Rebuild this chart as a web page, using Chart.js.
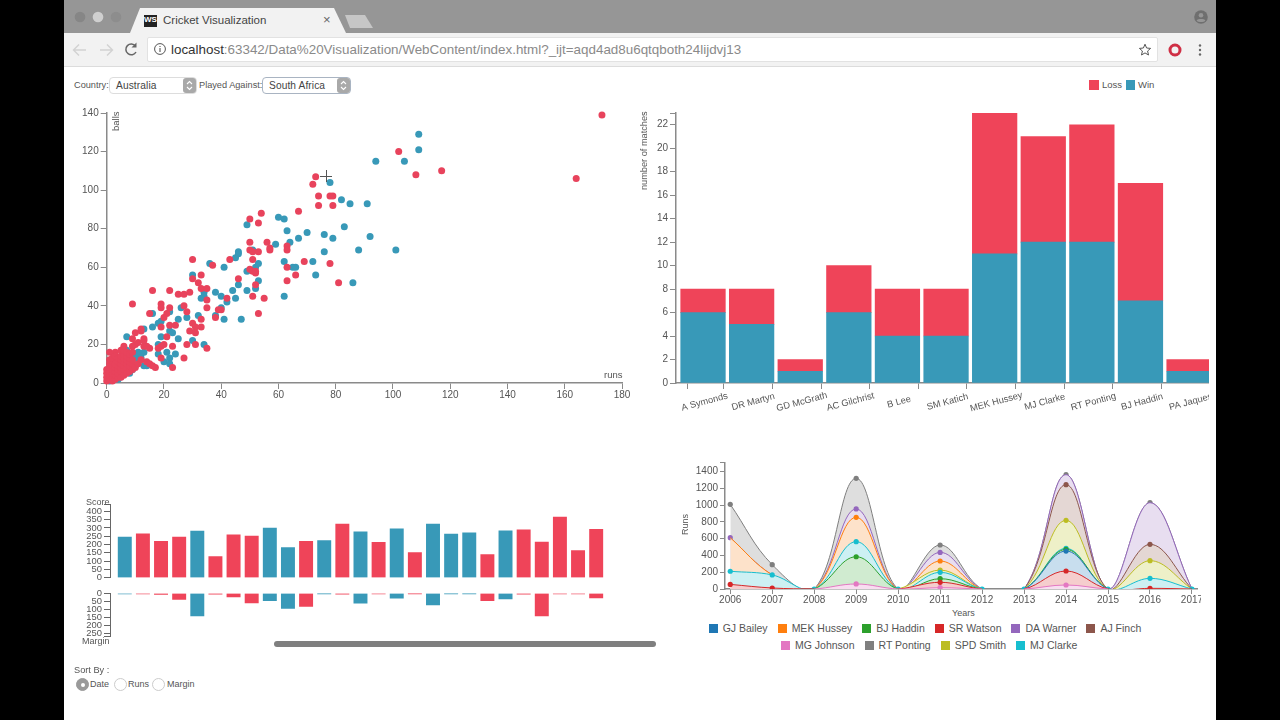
<!DOCTYPE html>
<html>
<head>
<meta charset="utf-8">
<title>Cricket Visualization</title>
<script src="https://cdn.jsdelivr.net/npm/chart.js@4/dist/chart.umd.js"></script>
<style>
  html, body { margin: 0; padding: 0; width: 1280px; height: 720px; overflow: hidden; background: #000; }
  body, select, div, span { font-family: "Liberation Sans", Arial, sans-serif; }
  #window { position: absolute; left: 64px; top: 0; width: 1152px; height: 720px; background: #fff; overflow: hidden; }
  .abs { position: absolute; }
  canvas { position: absolute; }
  #tabstrip { left: 0; top: 0; width: 1152px; height: 33px; background: #969696; }
  #tab { left: 66px; top: 8px; width: 216px; height: 25px; background: #f2f2f2;
         clip-path: polygon(0 100%, 10px 0, 204px 0, 100% 100%); }
  #newtab { left: 281px; top: 15px; width: 28px; height: 13px; background: #c6c6c6;
            clip-path: polygon(0 0, 20px 0, 100% 100%, 5px 100%); }
  #toolbar { left: 0; top: 33px; width: 1152px; height: 33px; background: #f2f2f2; border-bottom: 1px solid #dcdcdc; }
  #urlbox { left: 83px; top: 37px; width: 1009px; height: 23px; background: #fff; border: 1px solid #e2e2e2; border-radius: 2px; }
  #url { left: 107px; top: 42px; font-size: 13.4px; line-height: 16px; color: #8a8a8a; white-space: nowrap; }
  #url b { font-weight: normal; color: #333; }
  .lbl { position: absolute; font-size: 10px; line-height: 12px; color: #555; white-space: nowrap; }
  .sel { position: absolute; top: 77px; height: 15px; background: #fff; border: 1px solid #ddd; border-radius: 4px;
         font-size: 10.2px; line-height: 15px; color: #444; letter-spacing: 0.1px; box-sizing: content-box; }
  .sel span { position: absolute; left: 6px; top: 0; white-space: nowrap; }
  .sel svg { position: absolute; right: 0; top: 0; }
  .radio { position: absolute; top: 678px; width: 11px; height: 11px; border: 1px solid #ccc; border-radius: 50%; background: #fff; }
  .radio.on { background: #9a9a9a; border-color: #9a9a9a; }
  .radio.on::after { content: ""; position: absolute; left: 4px; top: 4px; width: 4px; height: 4px; border-radius: 50%; background: #fff; }
  #scrollthumb { left: 210px; top: 641px; width: 382px; height: 6px; background: #7f7f7f; border-radius: 3px; }
  .swatch { display: inline-block; width: 9px; height: 9px; margin-right: 5px; }
  .legendrow { position: absolute; display: flex; align-items: center; font-size: 10.5px; line-height: 12px; color: #555; white-space: nowrap; }
  .legendrow span.item { display: flex; align-items: center; margin-right: 10px; }
</style>
</head>
<body>
<div id="window">
  <div class="abs" id="tabstrip"></div>
  <svg class="abs" style="left:0;top:0" width="70" height="33">
    <circle cx="16" cy="17" r="5.3" fill="#868686"/>
    <circle cx="34" cy="17" r="5.3" fill="#cfcfcf"/>
    <circle cx="52" cy="17" r="5.3" fill="#8d8d8d"/>
  </svg>
  <div class="abs" id="tab"></div>
  <div class="abs" id="newtab"></div>
  <div class="abs" style="left:80px;top:15px;width:13px;height:12px;background:#222;color:#fff;font-size:8px;line-height:9px;font-weight:bold;text-align:center">WS</div>
  <div class="abs" style="left:99px;top:13px;font-size:11.5px;line-height:14px;color:#444;white-space:nowrap">Cricket Visualization</div>
  <div class="abs" style="left:259px;top:13px;font-size:13px;line-height:14px;color:#666">×</div>
  <div class="abs" id="toolbar"></div>
  <div class="abs" id="urlbox"></div>
  <svg class="abs" style="left:0;top:33px" width="100" height="33">
    <path d="M22 17 H10 M15 11.5 L9.5 17 L15 22.5" fill="none" stroke="#d2d2d2" stroke-width="1.4"/>
    <path d="M36 17 H48 M43 11.5 L48.5 17 L43 22.5" fill="none" stroke="#d2d2d2" stroke-width="1.4"/>
    <path d="M71.5 13 A5.4 5.4 0 1 0 72 19" fill="none" stroke="#666" stroke-width="1.5"/>
    <path d="M72.5 9.5 V14.5 H67.5 Z" fill="#666"/>
  </svg>
  <svg class="abs" style="left:88px;top:41px" width="16" height="16">
    <circle cx="8" cy="8" r="5.4" fill="none" stroke="#555" stroke-width="1"/>
    <path d="M8 7 V11 M8 5 V6" stroke="#555" stroke-width="1.1"/>
  </svg>
  <div class="abs" id="url"><b>localhost</b>:63342/Data%20Visualization/WebContent/index.html?_ijt=aqd4ad8u6qtqboth24lijdvj13</div>
  <svg class="abs" style="left:1072px;top:41px" width="80" height="18">
    <path d="M9 3.2 L10.6 7 L14.6 7.4 L11.6 10 L12.5 14 L9 11.9 L5.5 14 L6.4 10 L3.4 7.4 L7.4 7 Z" fill="none" stroke="#555" stroke-width="1"/>
    <circle cx="39" cy="9" r="5" fill="none" stroke="#cf2f45" stroke-width="3"/>
    <circle cx="64" cy="4.5" r="1.2" fill="#666"/><circle cx="64" cy="9" r="1.2" fill="#666"/><circle cx="64" cy="13.5" r="1.2" fill="#666"/>
  </svg>
  <svg class="abs" style="left:1128px;top:9px" width="18" height="18">
    <circle cx="9" cy="8" r="6.8" fill="#6f6f6f"/>
    <circle cx="9" cy="6.2" r="2.3" fill="#969696"/>
    <path d="M4.6 11.4 C6 9.6 12 9.6 13.4 11.4 C12 13.4 6 13.4 4.6 11.4 Z" fill="#969696"/>
  </svg>

  <div class="lbl" style="left:10px;top:79px;font-size:9.2px">Country:</div>
  <div class="sel" style="left:45px;width:86px"><span>Australia</span>
    <svg width="13" height="15"><rect width="13" height="15" rx="3" fill="#a9a9a9"/><path d="M4 6 L6.5 3.5 L9 6 M4 9 L6.5 11.5 L9 9" fill="none" stroke="#fff" stroke-width="1.1"/></svg></div>
  <div class="lbl" style="left:135px;top:79px;font-size:9.2px">Played Against:</div>
  <div class="sel" style="left:198px;width:87px;border-color:#a9b4c2"><span>South Africa</span>
    <svg width="13" height="15"><rect width="13" height="15" rx="3" fill="#a9a9a9"/><path d="M4 6 L6.5 3.5 L9 6 M4 9 L6.5 11.5 L9 9" fill="none" stroke="#fff" stroke-width="1.1"/></svg></div>

  <span class="abs" style="left:1025px;top:80px;width:9.5px;height:9.5px;background:#ef4459"></span>
  <div class="lbl" style="left:1038px;top:79px;font-size:9.5px">Loss</div>
  <span class="abs" style="left:1061.5px;top:80px;width:9px;height:9.5px;background:#3899b8"></span>
  <div class="lbl" style="left:1074px;top:79px;font-size:9.5px">Win</div>

  <canvas id="scatterCanvas" style="left:6px;top:100px" width="560" height="310"></canvas>
  <div class="lbl" style="left:52px;top:113px;transform-origin:0 0;transform:rotate(-90deg) translate(-18px,-6px);font-size:9.5px;width:18px">balls</div>
  <div class="lbl" style="left:540px;top:369px;font-size:9.5px">runs</div>

  <canvas id="stackCanvas" style="left:570px;top:100px" width="575" height="320"></canvas>
  <div class="lbl" style="left:574px;top:190px;transform-origin:0 0;transform:rotate(-90deg);font-size:9.2px;width:78px">number of matches</div>

  <canvas id="scoreCanvas" style="left:6px;top:495px" width="590" height="85"></canvas>
  <canvas id="marginCanvas" style="left:6px;top:585px" width="590" height="55"></canvas>
  <div class="lbl" style="left:15px;top:496px;font-size:9px;width:30.5px;text-align:right">Score</div>
  <div class="lbl" style="left:15px;top:635px;font-size:9px;width:30.5px;text-align:right">Margin</div>
  <div class="abs" id="scrollthumb"></div>

  <div class="lbl" style="left:10px;top:664px;font-size:9.2px">Sort By :</div>
  <div class="radio on" style="left:12px"></div>
  <div class="lbl" style="left:26px;top:678px;font-size:9px">Date</div>
  <div class="radio" style="left:50px"></div>
  <div class="lbl" style="left:64px;top:678px;font-size:9px">Runs</div>
  <div class="radio" style="left:88px"></div>
  <div class="lbl" style="left:103px;top:678px;font-size:9px">Margin</div>

  <canvas id="areaCanvas" style="left:626px;top:455px" width="511" height="150"></canvas>
  <div class="lbl" style="left:615px;top:535px;transform-origin:0 0;transform:rotate(-90deg);font-size:9px;width:22px">Runs</div>
  <div class="lbl" style="left:888px;top:607px;font-size:9px">Years</div>
  <div class="legendrow" id="legendRow1" style="left:644.7px;top:622px"></div>
  <div class="legendrow" id="legendRow2" style="left:717px;top:639px"></div>

  <!-- mouse crosshair over the scatter -->
  <div class="abs" style="left:256px;top:175.5px;width:12px;height:1px;background:#555"></div>
  <div class="abs" style="left:261.5px;top:170px;width:1px;height:12px;background:#555"></div>
</div>

<script>
const RED = "#ef4459";
const SCATTER_RED = "#e8435c";
const BLUE = "#3899b8";
const AXIS = "#8a8a8a";
const TEXT = "#555";

// scatter, runs against balls
const lossRuns = [173,164,102,117,108,81,73,72,74,74,78,79,79,67,54,50,53,50,50,56,57,63,63,
  30,37,43,51,53,57,69,78,63,63,66,33,30,32,33,35,50,51,52,51,52,46,52,51,55,53,42,40,39,38,35,35,
  16,22,25,27,29,9,19,19,22,21,15,27,28,20,19,22,24,30,33,31,33,29,31,21,28,31,23,35,27,23,17,19,19,20,18,
  9,10,12,13,9,6,13,15,14,1,3,12,
  0,0,0,0,1,1,1,1,1,1,2,2,2,2,2,2,2,3,3,3,3,3,3,4,4,4,4,4,4,5,5,5,5,5,5,5,6,6,6,6,6,6,6,7,7,7,7,7,7,8,8,8,8,8,9,9,9,9,10,10,11,11,12,13,14,15,16];
const lossBalls = [139,106,120,110,108,52,107,103,97,92,97,97,92,89,88,85,83,73,69,73,70,71,69,
  64,61,64,68,68,69,63,62,60,53,56,56,54,52,49,49,59,58,57,64,58,54,51,45,44,36,44,38,38,34,39,43,
  48,48,46,46,47,41,41,39,39,36,36,40,37,34,29,30,30,31,33,29,29,27,26,24,20,20,19,18,13,8,8,13,19,20,18,
  23,26,27,23,19,19,19,18,19,16,16,28,
  1,3,5,7,2,4,6,8,10,12,1,3,5,7,9,11,13,2,4,6,8,10,14,3,5,7,9,11,13,3,6,8,10,12,14,17,4,7,9,11,13,15,17,5,8,10,12,14,16,6,9,11,13,15,7,10,12,16,8,20,10,21,12,22,11,10,9];

const winRuns = [109,109,94,104,78,82,85,91,60,62,49,63,70,67,76,79,83,92,64,59,88,101,76,46,51,86,
  36,41,45,46,52,53,49,62,65,66,72,73,30,53,46,44,49,52,45,62,40,38,34,34,33,42,40,38,41,47,26,22,16,28,32,25,19,18,16,13,7,22,23,19,25,30,34,18,21,24,22,20,22,18,
  12,10,13,13,14,10,7,8,3,1,2,4,5,6,9,11,11,12,8,5];
const winBalls = [129,121,115,115,104,95,93,93,86,85,82,79,78,75,77,75,81,76,73,72,69,69,68,68,69,52,
  62,60,65,67,60,62,58,63,60,60,63,56,56,53,51,48,48,49,44,45,45,47,47,45,44,42,39,35,33,33,39,37,36,34,35,33,32,31,29,28,24,27,26,24,23,22,20,20,16,15,13,11,10,15,
  15,14,16,9,9,9,17,5,10,1,2,2,4,5,7,12,16,13,10,9];

// stacked bars, matches per player
const players = ["A Symonds","DR Martyn","GD McGrath","AC Gilchrist","B Lee","SM Katich","MEK Hussey","MJ Clarke","RT Ponting","BJ Haddin","PA Jaques"];
const wins = [6,5,1,6,4,4,11,12,12,7,1];
const losses = [2,3,1,4,4,4,12,9,10,10,1];

// one bar per match, in date order
const scores = [245,265,219,245,281,128,259,251,299,181,219,223,323,277,213,295,151,323,263,271,139,283,289,215,365,163,291];
const margins = [3,3,7,38,141,6,23,60,46,94,81,2,6,62,4,31,2,73,2,2,46,35,5,141,3,4,29];
const outcomes = ["W","L","L","L","W","L","L","L","W","W","L","W","L","W","L","W","L","W","W","W","L","W","L","L","L","L","L"];
// the last tick of each list is the unlabelled end of the axis
const scoreTicks = [0,50,100,150,200,250,300,350,400,440];
const marginTicks = [0,50,100,150,200,250,270];

// runs per player per year
const years = [2006,2007,2008,2009,2010,2011,2012,2013,2014,2015,2016,2017];
const runTicks = [0,200,400,600,800,1000,1200,1400,1507];
const baileyRuns  = [0,0,0,0,0,0,0,0,453,0,0,0];
const husseyRuns  = [612,168,0,855,0,334,0,0,0,0,0,0];
const haddinRuns  = [0,0,0,385,0,123,0,0,473,0,0,0];
const watsonRuns  = [55,12,0,0,0,80,0,0,215,0,8,0];
const warnerRuns  = [612,168,0,955,0,437,0,0,1364,0,1030,0];
const finchRuns   = [0,0,0,0,0,0,0,0,1245,0,533,0];
const johnsonRuns = [0,0,0,60,0,16,0,0,48,0,0,0];
const pontingRuns = [1010,290,0,1320,0,525,0,0,1364,0,1030,0];
const smithRuns   = [0,0,0,0,0,226,0,0,819,0,338,0];
const clarkeRuns  = [212,168,0,565,0,199,0,0,485,0,127,0];

const batsmen = ["GJ Bailey","MEK Hussey","BJ Haddin","SR Watson","DA Warner","AJ Finch","MG Johnson","RT Ponting","SPD Smith","MJ Clarke"];
const batsmanRuns = [baileyRuns,husseyRuns,haddinRuns,watsonRuns,warnerRuns,finchRuns,johnsonRuns,pontingRuns,smithRuns,clarkeRuns];
const batsmanColors = ["#1f77b4","#ff7f0e","#2ca02c","#d62728","#9467bd","#8c564b","#e377c2","#7f7f7f","#bcbd22","#17becf"];
const batsmanFills = ["#c8deee","#fde2ca","#d0ebd0","#f5cdcd","#e8def0","#e4d7d4","#f8def0","#dedede","#eef0c8","#cdf0f3"];
// tallest curves get painted first so the shorter ones stay visible
const paintOrder = ["RT Ponting","DA Warner","AJ Finch","MEK Hussey","SPD Smith","MJ Clarke","BJ Haddin","GJ Bailey","SR Watson","MG Johnson"];

Chart.defaults.animation = false;
Chart.defaults.responsive = false;
Chart.defaults.devicePixelRatio = 1;
Chart.defaults.font.family = '"Liberation Sans", Arial, sans-serif';
Chart.defaults.font.size = 10;
Chart.defaults.color = TEXT;
Chart.defaults.plugins.legend.display = false;
Chart.defaults.plugins.tooltip.enabled = false;

// d3 style axis: line plus outward ticks, nothing on the plot itself
function axisLook(extra) {
  return Object.assign({
    grid: { drawOnChartArea: false, tickLength: 6, tickColor: AXIS, tickWidth: 1 },
    border: { color: AXIS, width: 1.5 },
  }, extra);
}

// fix the axis box so the plot area lands where it should
function pinY(width) {
  return (s) => { s.width = width; s.paddingTop = 0; s.paddingBottom = 0; };
}
function pinX(height) {
  return (s) => { s.height = height; s.paddingLeft = 0; s.paddingRight = 0; };
}

// use these values as the ticks, as chart.js would drop the ones close to the ends
function fixedTicks(values) {
  return (s) => { s.ticks = values.map((v) => ({ value: v })); };
}

new Chart(document.getElementById("scatterCanvas"), {
  type: "scatter",
  data: {
    datasets: [
      { data: lossRuns.map((r, i) => ({ x: r, y: lossBalls[i] })), backgroundColor: SCATTER_RED, pointRadius: 3.5, borderWidth: 0, clip: false },
      { data: winRuns.map((r, i) => ({ x: r, y: winBalls[i] })), backgroundColor: BLUE, pointRadius: 3.5, borderWidth: 0, clip: false },
    ],
  },
  options: {
    layout: { padding: { top: 13, right: 8 } },
    scales: {
      x: axisLook({ min: 0, max: 180, ticks: { stepSize: 20, maxRotation: 0, padding: 0 }, afterFit: pinX(27) }),
      y: axisLook({ min: 0, max: 140, ticks: { stepSize: 20, padding: 2 }, afterFit: pinY(36.7) }),
    },
  },
});

// player names sit tilted, centred a little to the right of each tick
const tiltedPlayerLabels = {
  id: "tiltedPlayerLabels",
  afterDraw(chart) {
    const { ctx, scales } = chart;
    ctx.save();
    ctx.font = '9.3px "Liberation Sans", Arial, sans-serif';
    ctx.fillStyle = TEXT;
    ctx.textAlign = "center";
    ctx.textBaseline = "middle";
    players.forEach((name, i) => {
      ctx.save();
      ctx.translate(scales.x.getPixelForValue(i - 0.07) + 5, scales.x.top + 19);
      ctx.rotate(-15 * Math.PI / 180);
      ctx.fillText(name, 0, 0);
      ctx.restore();
    });
    ctx.restore();
  },
};

new Chart(document.getElementById("stackCanvas"), {
  type: "bar",
  data: {
    datasets: [
      { label: "Win", data: wins.map((v, i) => ({ x: i, y: v })), backgroundColor: BLUE, barThickness: 44.6 },
      { label: "Loss", data: losses.map((v, i) => ({ x: i, y: v })), backgroundColor: RED, barThickness: 44.6 },
    ],
  },
  options: {
    layout: { padding: { top: 13 } },
    scales: {
      x: axisLook({
        type: "linear", stacked: true, offset: false, min: -0.556, max: 10.41,
        ticks: { display: false },
        afterBuildTicks: (s) => { s.ticks = [{ value: s.min }].concat(players.map((p, i) => ({ value: i - 0.07 }))); },
        afterFit: pinX(37),
      }),
      y: axisLook({
        stacked: true, min: 0, max: 23,
        ticks: { stepSize: 2, autoSkip: false, padding: 2, callback: (v) => (v % 2 === 0 ? v : "") },
        afterFit: pinY(42),
      }),
    },
  },
  plugins: [tiltedPlayerLabels],
});

// score and margin share the same x positions
const matchAxis = { type: "linear", display: false, offset: false, min: -0.815, max: 29.52 };
const outcomeColors = outcomes.map((o) => (o === "W" ? BLUE : RED));
const matchAxisStyle = {
  grid: { drawOnChartArea: false, tickLength: 6, tickColor: "#666", tickWidth: 1 },
  border: { color: "#666", width: 1 },
};

new Chart(document.getElementById("scoreCanvas"), {
  type: "bar",
  data: { datasets: [{ data: scores.map((v, i) => ({ x: i, y: v })), backgroundColor: outcomeColors, barThickness: 13.3 }] },
  options: {
    layout: { padding: { top: 9.7, bottom: 2.3 } },
    scales: {
      x: matchAxis,
      y: Object.assign({}, matchAxisStyle, {
        min: 0, max: 440,
        afterBuildTicks: fixedTicks(scoreTicks),
        ticks: { autoSkip: false, padding: 2, font: { size: 9.4 }, callback: (v) => (v % 50 === 0 ? v : "") },
        afterFit: pinY(40),
      }),
    },
  },
});

new Chart(document.getElementById("marginCanvas"), {
  type: "bar",
  data: { datasets: [{ data: margins.map((v, i) => ({ x: i, y: v })), backgroundColor: outcomeColors, barThickness: 13.3 }] },
  options: {
    layout: { padding: { top: 8.3, bottom: 3.3 } },
    scales: {
      x: matchAxis,
      y: Object.assign({}, matchAxisStyle, {
        reverse: true, min: 0, max: 270,
        afterBuildTicks: fixedTicks(marginTicks),
        ticks: { autoSkip: false, padding: 2, font: { size: 9.4 }, callback: (v) => (v % 50 === 0 ? v : "") },
        afterFit: pinY(40),
      }),
    },
  },
});

// when two batsmen tie in a year the one later in the list keeps the dot,
// and along the baseline only the last one does
function dotRadius(seriesIndex) {
  return (ctx) => {
    const v = batsmanRuns[seriesIndex][ctx.dataIndex];
    if (v === 0) return seriesIndex === batsmen.length - 1 ? 2.6 : 0;
    const tied = batsmanRuns.some((runs, j) => j > seriesIndex && runs[ctx.dataIndex] === v);
    return tied ? 0 : 2.6;
  };
}

const areaDatasets = paintOrder.map((name, drawn) => {
  const k = batsmen.indexOf(name);
  return {
    label: name,
    data: batsmanRuns[k].map((v, i) => ({ x: years[i], y: v })),
    borderColor: batsmanColors[k],
    borderWidth: 1,
    backgroundColor: batsmanColors[k],
    pointBackgroundColor: batsmanColors[k],
    pointBorderWidth: 0,
    pointRadius: dotRadius(k),
    fill: { target: "origin", above: batsmanFills[k] },
    tension: 0.38,
    order: paintOrder.length - drawn,
    segment: {
      // no stroke while a curve runs along the baseline
      borderColor: (c) => (c.p0.parsed.y === 0 && c.p1.parsed.y === 0 ? "transparent" : undefined),
    },
  };
});

new Chart(document.getElementById("areaCanvas"), {
  type: "line",
  data: { datasets: areaDatasets },
  options: {
    layout: { padding: { top: 7.7 } },
    elements: { line: { capBezierPoints: false } },
    scales: {
      x: axisLook({
        type: "linear", min: 2005.875, max: 2017.12,
        afterBuildTicks: fixedTicks(years),
        grid: { drawOnChartArea: false, tickLength: 5, tickColor: AXIS, tickWidth: 1 },
        ticks: { maxRotation: 0, autoSkip: false, padding: 0, callback: (v) => String(v) },
        afterFit: pinX(16),
      }),
      y: axisLook({
        min: 0, max: 1507,
        afterBuildTicks: fixedTicks(runTicks),
        grid: { drawOnChartArea: false, tickLength: 5, tickColor: AXIS, tickWidth: 1 },
        ticks: { autoSkip: false, padding: 2, callback: (v) => (v % 200 === 0 ? v : "") },
        afterFit: pinY(35),
      }),
    },
  },
});

// legend rows under the area chart
function fillLegendRow(id, from, to) {
  const row = document.getElementById(id);
  for (let i = from; i < to; i++) {
    const item = document.createElement("span");
    item.className = "item";
    item.innerHTML = '<span class="swatch" style="background:' + batsmanColors[i] + '"></span>' + batsmen[i];
    row.appendChild(item);
  }
}
fillLegendRow("legendRow1", 0, 6);
fillLegendRow("legendRow2", 6, 10);
</script>
</body>
</html>
